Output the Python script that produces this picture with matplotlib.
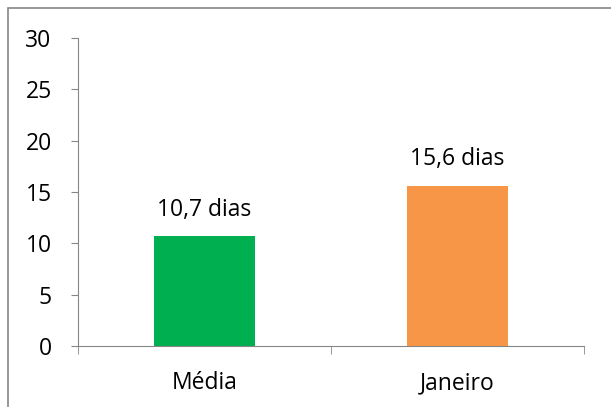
import matplotlib.pyplot as plt
from matplotlib.patches import Rectangle

plt.rcParams["font.family"] = ["Open Sans", "DejaVu Sans"]

categories = ["Média", "Janeiro"]
values = [10.7, 15.6]
bar_labels = ["10,7 dias", "15,6 dias"]
colors = ["#00B050", "#F79646"]

fig = plt.figure(figsize=(6.11, 4.07), dpi=100)
ax = fig.add_axes([0.1277, 0.150, 0.828, 0.757])

# moldura do gráfico (cortada à direita e em baixo)
fig.patches.append(Rectangle((8 / 611, -0.1), 1.2, 1 - 8 / 407 + 0.1,
                             transform=fig.transFigure, fill=False,
                             edgecolor="#868686", linewidth=1.2))

x = range(len(categories))
ax.bar(x, values, width=0.4, color=colors)
for i, v in enumerate(values):
    ax.text(i, v + 1.4, bar_labels[i], ha="center", va="bottom", fontsize=16.5)

ax.set_xlim(-0.5, 1.5)
ax.set_ylim(0, 30)
ax.set_yticks(range(0, 31, 5))
ax.set_xticks(x)
ax.set_xticklabels(categories, fontsize=16.5)
ax.set_xticks([-0.5, 0.5, 1.5], minor=True)
ax.tick_params(axis="x", which="major", length=0, pad=18)
ax.tick_params(axis="x", which="minor", length=6, color="#868686")
ax.tick_params(axis="y", length=5, color="#868686", labelsize=16.5, pad=14)

for s in ["top", "right"]:
    ax.spines[s].set_visible(False)
for s in ["left", "bottom"]:
    ax.spines[s].set_color("#868686")

fig.savefig("out.png", dpi=100)
